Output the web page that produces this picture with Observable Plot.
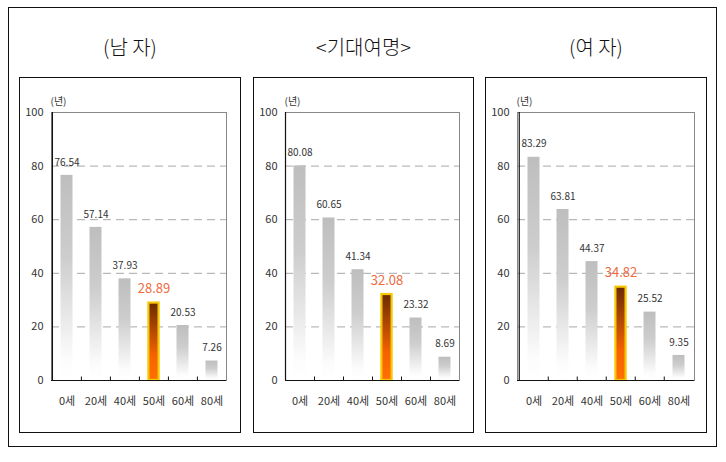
<!DOCTYPE html>
<html>
<head>
<meta charset="utf-8">
<script src="https://cdn.jsdelivr.net/npm/d3@7"></script>
<script src="https://cdn.jsdelivr.net/npm/@observablehq/plot@0.6"></script>
<style>
  html, body { margin: 0; padding: 0; background: #fff; }
  body { width: 726px; height: 462px; position: relative; overflow: hidden; font-family: "Noto Sans CJK KR", "DejaVu Sans", sans-serif; }
  .outer { position: absolute; left: 8px; top: 7px; width: 707px; height: 438px; border: 1.6px solid #111; }
  .panel { position: absolute; border: 1.4px solid #111; box-sizing: border-box; }
  .title { position: absolute; top: 32px; width: 240px; text-align: center; font-size: 20px; font-weight: 300; color: #111; line-height: 30px; }
  .chart { position: absolute; }
</style>
</head>
<body>
<div class="outer"></div>
<div id="root"></div>
<script>
const ages = ["0세", "20세", "40세", "50세", "60세", "80세"];
const maleValues = [76.54, 57.14, 37.93, 28.89, 20.53, 7.26];
const totalValues = [80.08, 60.65, 41.34, 32.08, 23.32, 8.69];
const femaleValues = [83.29, 63.81, 44.37, 34.82, 25.52, 9.35];
const panelTitles = ["(남 자)", "<기대여명>", "(여 자)"];
const highlightAge = "50세";
const yTicks = [0, 20, 40, 60, 80, 100];
const gridValues = [20, 40, 60, 80];
const unitLabel = "(년)";

const panels = [
  {title: panelTitles[0], values: maleValues, left: 19, top: 77, width: 222, height: 356, mr: 15},
  {title: panelTitles[1], values: totalValues, left: 253, top: 77, width: 221, height: 356, mr: 15},
  {title: panelTitles[2], values: femaleValues, left: 485, top: 77, width: 222, height: 356, mr: 13}
];

const root = document.getElementById("root");

panels.forEach((p, k) => {
  const data = ages.map((a, i) => ({age: a, value: p.values[i], hi: a === highlightAge}));
  const normal = data.filter(d => !d.hi);
  const high = data.filter(d => d.hi);

  const ml = 32, mt = 35, mb = 53, mr = p.mr;
  const plotW = p.width - ml - mr;
  const step = plotW / ages.length;
  const grayId = "gray" + k, hiId = "hi" + k;

  const chart = Plot.plot({
    width: p.width,
    height: p.height,
    marginLeft: ml,
    marginRight: mr,
    marginTop: mt,
    marginBottom: mb,
    style: {fontFamily: "'Noto Sans CJK KR', 'DejaVu Sans', sans-serif", fontSize: "11px", color: "#333", background: "transparent"},
    x: {domain: ages, padding: 0, label: null},
    y: {domain: [0, 100], label: null},
    marks: [
      Plot.ruleY(gridValues, {stroke: "#a8a8a8", strokeDasharray: "8,5", strokeWidth: 1}),
      Plot.frame({stroke: "#888", strokeWidth: 1}),
      Plot.barY(normal, {x: "age", y: "value", insetLeft: 8.5, insetRight: 8.5, fill: `url(#${grayId})`}),
      Plot.barY(high, {x: "age", y: "value", insetLeft: 9.4, insetRight: 9.4, fill: `url(#${hiId})`, stroke: "#f7c800", strokeWidth: 2.2}),
      Plot.text(normal, {x: "age", y: "value", text: d => d.value.toFixed(2), dy: -13, fill: "#333", fontSize: 10}),
      Plot.text(high, {x: "age", y: "value", text: d => d.value.toFixed(2), dy: -14, fill: "#ef6a3e", fontSize: 13}),
      Plot.ruleY([0], {stroke: "#111", strokeWidth: 1.2}),
      Plot.ruleX(ages.slice(0, 1), {x: d => d, y1: 0, y2: 100, dx: -step / 2, stroke: "#111", strokeWidth: 1.2}),
      Plot.ruleX(ages.slice(1), {x: d => d, y1: 0, y2: 1.3, dx: -step / 2, stroke: "#111", strokeWidth: 1}),
      Plot.axisY(yTicks, {tickSize: 0, tickPadding: 8, fontSize: 11, fill: "#333"}),
      Plot.axisX({tickSize: 0, tickPadding: 17, fontSize: 11, fill: "#333"}),
      Plot.text([unitLabel], {frameAnchor: "top-left", dx: -1, dy: -15, fontSize: 10, fill: "#333"})
    ]
  });

  const svg = d3.select(chart.tagName.toLowerCase() === "svg" ? chart : chart.querySelector("svg"));
  const defs = svg.insert("defs", ":first-child");
  const g1 = defs.append("linearGradient").attr("id", grayId).attr("x1", 0).attr("y1", 0).attr("x2", 0).attr("y2", 1);
  g1.append("stop").attr("offset", "0").attr("stop-color", "#bebebe");
  g1.append("stop").attr("offset", "0.4").attr("stop-color", "#cdcdcd");
  g1.append("stop").attr("offset", "0.9").attr("stop-color", "#fcfcfc");
  g1.append("stop").attr("offset", "1").attr("stop-color", "#ffffff");
  const g2 = defs.append("linearGradient").attr("id", hiId).attr("x1", 0).attr("y1", 0).attr("x2", 0).attr("y2", 1);
  g2.append("stop").attr("offset", "0").attr("stop-color", "#6a2a00");
  g2.append("stop").attr("offset", "0.35").attr("stop-color", "#b04800");
  g2.append("stop").attr("offset", "0.68").attr("stop-color", "#f56200");
  g2.append("stop").attr("offset", "1").attr("stop-color", "#ff7000");

  const panelDiv = document.createElement("div");
  panelDiv.className = "panel";
  panelDiv.style.left = p.left + "px";
  panelDiv.style.top = p.top + "px";
  panelDiv.style.width = p.width + "px";
  panelDiv.style.height = p.height + "px";
  root.appendChild(panelDiv);

  const chartDiv = document.createElement("div");
  chartDiv.className = "chart";
  chartDiv.style.left = p.left + "px";
  chartDiv.style.top = p.top + "px";
  chartDiv.appendChild(chart);
  root.appendChild(chartDiv);

  const t = document.createElement("div");
  t.className = "title";
  t.textContent = p.title;
  t.style.left = (p.left + p.width / 2 - 120) + "px";
  root.appendChild(t);
});
</script>
</body>
</html>
